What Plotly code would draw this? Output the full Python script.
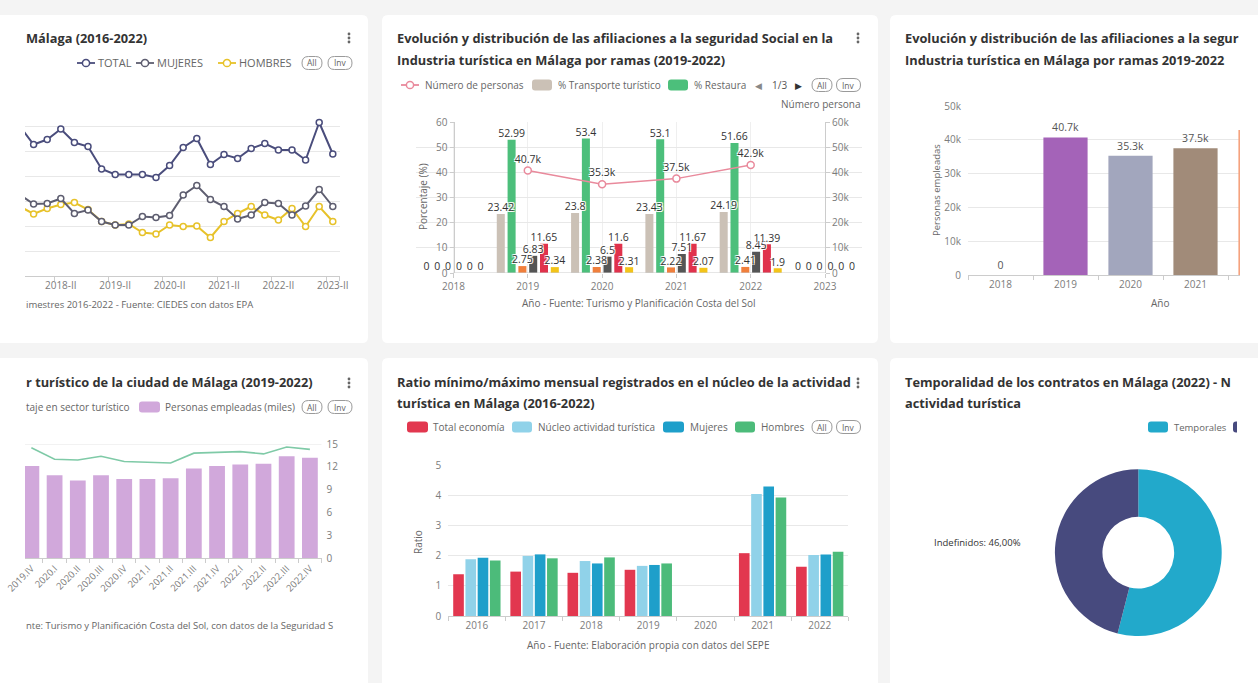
import plotly.graph_objects as go

W, H = 1258, 683
FONT = "Open Sans"

# ---------------- data ----------------
# Panel A - quarterly series (Málaga 2016-2022)
quarters_a = ["2017-III", "2017-IV", "2018-I", "2018-II", "2018-III", "2018-IV",
              "2019-I", "2019-II", "2019-III", "2019-IV", "2020-I", "2020-II",
              "2020-III", "2020-IV", "2021-I", "2021-II", "2021-III", "2021-IV",
              "2022-I", "2022-II", "2022-III", "2022-IV", "2023-I", "2023-II"]
labels_a = ["2018-II", "2019-II", "2020-II", "2021-II", "2022-II", "2023-II"]
total_a = [29.9, 26.3, 27.3, 29.4, 26.7, 25.9, 21.4, 20.3, 20.3, 20.3, 19.7, 22.1,
           25.7, 27.5, 22.3, 24.3, 23.5, 25.5, 26.5, 25.2, 25.2, 23.2, 30.7, 24.4]
mujeres_a = [16.2, 14.4, 14.5, 15.5, 12.5, 13.2, 10.9, 10.2, 10.2, 11.9, 11.7, 12.1,
             16.2, 18.1, 15.3, 13.9, 11.4, 12.2, 14.7, 14.5, 12.2, 14.0, 17.3, 13.9]
hombres_a = [13.9, 12.4, 13.5, 14.3, 14.7, 13.3, 10.9, 10.2, 10.4, 8.7, 8.4, 10.2,
             9.9, 10.0, 7.7, 10.9, 12.5, 13.9, 12.2, 11.2, 13.5, 9.9, 13.9, 10.9]

# Panel B - afiliaciones por ramas (%)
years_b = [2018, 2019, 2020, 2021, 2022, 2023]
transporte_b = [0, 23.42, 23.8, 23.43, 24.19, 0]
restauracion_b = [0, 52.99, 53.4, 53.1, 51.66, 0]
rama3_b = [0, 2.75, 2.38, 2.22, 2.41, 0]
rama4_b = [0, 6.83, 6.5, 7.51, 8.45, 0]
rama5_b = [0, 11.65, 11.6, 11.67, 11.39, 0]
rama6_b = [0, 2.34, 2.31, 2.07, 1.9, 0]
years_personas = [2019, 2020, 2021, 2022]
personas_b = [40700, 35300, 37500, 42900]

# Panel C - personas empleadas
years_c = ["2018", "2019", "2020", "2021", "2022"]
personas_c = [0, 40700, 35300, 37500, 42900]

# Panel D - sector turístico ciudad de Málaga
quarters_d = ["2019.IV", "2020.I", "2020.II", "2020.III", "2020.IV", "2021.I", "2021.II",
              "2021.III", "2021.IV", "2022.I", "2022.II", "2022.III", "2022.IV"]
empleadas_d = [12.1, 10.9, 10.2, 10.9, 10.4, 10.4, 10.5, 11.8, 12.1, 12.3, 12.4, 13.4, 13.2]
porcentaje_d = [14.5, 13.0, 12.9, 13.4, 12.7, 12.6, 12.5, 13.8, 13.9, 14.0, 13.7, 14.6, 14.3]

# Panel E - ratio mínimo/máximo
years_e = ["2016", "2017", "2018", "2019", "2020", "2021", "2022"]
total_econ_e = [1.38, 1.47, 1.43, 1.53, None, 2.08, 1.63]
nucleo_e = [1.88, 1.99, 1.82, 1.66, None, 4.04, 2.02]
mujeres_e = [1.93, 2.04, 1.74, 1.69, None, 4.29, 2.04]
hombres_e = [1.84, 1.91, 1.94, 1.74, None, 3.92, 2.13]

# Panel F - temporalidad
contratos_f = ["Temporales", "Indefinidos"]
pct_f = [54.0, 46.0]

# ---------------- helpers ----------------
def X(p):
    return p / W


def Y(p):
    return 1 - p / H


def kfmt(v):
    return f"{v / 1000:g}k" if v else "0"


shapes = []
annotations = []
HALO = "-1px -1px 0 #fff, 1px -1px 0 #fff, -1px 1px 0 #fff, 1px 1px 0 #fff"


def rrect_path(x0, y0, x1, y1, r):
    rx, ry = r / W, r / H
    a, b, c, d = X(x0), X(x1), Y(y0), Y(y1)
    return (f"M {a+rx},{c} L {b-rx},{c} Q {b},{c} {b},{c-ry} L {b},{d+ry} Q {b},{d} {b-rx},{d} "
            f"L {a+rx},{d} Q {a},{d} {a},{d+ry} L {a},{c-ry} Q {a},{c} {a+rx},{c} Z")


def card(x0, y0, x1, y1):
    shapes.append(dict(type="path", xref="paper", yref="paper", path=rrect_path(x0, y0, x1, y1, 6),
                       fillcolor="white", line=dict(width=0), layer="below"))


def txt(x, y, s, size=10, color="#666", bold=False, xanchor="left", yanchor="middle", angle=0):
    annotations.append(dict(x=X(x), y=Y(y), xref="paper", yref="paper",
                            text=f"<b>{s}</b>" if bold else s, showarrow=False,
                            xanchor=xanchor, yanchor=yanchor, textangle=angle, borderpad=0,
                            font=dict(size=size, color=color, family=FONT)))


def title(x, y, s):
    txt(x, y, s, size=12.8, color="#333", bold=True)


def dots(x, y):
    for dy in (-4, 0, 4):
        shapes.append(dict(type="circle", xref="paper", yref="paper",
                           x0=X(x - 1.4), x1=X(x + 1.4), y0=Y(y + dy + 1.4), y1=Y(y + dy - 1.4),
                           fillcolor="#666", line=dict(width=0)))


def line_icon(xc, yc, color):
    shapes.append(dict(type="line", xref="paper", yref="paper", x0=X(xc - 9), x1=X(xc + 9),
                       y0=Y(yc), y1=Y(yc), line=dict(color=color, width=1.8)))
    shapes.append(dict(type="circle", xref="paper", yref="paper", x0=X(xc - 3.6), x1=X(xc + 3.6),
                       y0=Y(yc + 3.6), y1=Y(yc - 3.6), fillcolor="white", line=dict(color=color, width=1.5)))


def rect_icon(x0, x1, yc, color):
    shapes.append(dict(type="path", xref="paper", yref="paper", path=rrect_path(x0, yc - 5.5, x1, yc + 5.5, 3),
                       fillcolor=color, line=dict(width=0)))


def pill(xc, yc, w, s):
    shapes.append(dict(type="path", xref="paper", yref="paper",
                       path=rrect_path(xc - w / 2, yc - 6.5, xc + w / 2, yc + 6.5, 6.5),
                       fillcolor="rgba(0,0,0,0)", line=dict(color="#9a9a9a", width=1)))
    txt(xc, yc, s, size=8.5, color="#666", xanchor="center")


# ---------------- cards ----------------
card(-10, 15, 368, 343)
card(382, 15, 878, 343)
card(890, 15, 1275, 343)
card(-10, 358, 368, 700)
card(382, 358, 878, 700)
card(890, 358, 1275, 700)

# ---------------- colors ----------------
C_TOTAL, C_MUJ, C_HOM = "#4a4d7c", "#5e5e70", "#e7c22a"
C_PINK = "#e98a9c"
C_B = ["#cbc1b6", "#4cbf7b", "#f07f3c", "#555555", "#e0324c", "#f3c419"]
C_C = ["#a463b8", "#a463b8", "#a2a6bd", "#a18b79", "#f5a27e"]
C_D_BAR, C_D_LINE = "#d1a8db", "#7fcaa7"
C_E = ["#e2374f", "#90d2e9", "#1e9fca", "#4cbb7a"]
C_F = ["#22a9cb", "#474a7e"]

fig = go.Figure()

# ---------------- Panel A ----------------
for name, vals, col in (("HOMBRES", hombres_a, C_HOM), ("MUJERES", mujeres_a, C_MUJ), ("TOTAL", total_a, C_TOTAL)):
    fig.add_trace(go.Scatter(x=quarters_a, y=vals, name=name, mode="lines+markers",
                             line=dict(color=col, width=2),
                             marker=dict(size=6, color="white", line=dict(color=col, width=1.5)),
                             xaxis="x", yaxis="y"))

title(25, 38, "Málaga (2016-2022)")
dots(349, 38)
line_icon(86, 63, C_TOTAL)
txt(97, 63, "TOTAL", size=11)
line_icon(145, 63, C_MUJ)
txt(156, 63, "MUJERES", size=11)
line_icon(227, 63, C_HOM)
txt(238, 63, "HOMBRES", size=11)
pill(312, 63, 20, "All")
pill(340, 63, 24, "Inv")
txt(25, 305, "imestres 2016-2022 - Fuente: CIEDES con datos EPA", size=9.5)

# ---------------- Panel B ----------------
names_b = ["% Transporte turístico", "% Restauración", "% Rama 3", "% Rama 4", "% Rama 5", "% Rama 6"]
series_b = [transporte_b, restauracion_b, rama3_b, rama4_b, rama5_b, rama6_b]
pitch_b, width_b = 0.1454, 0.108
for k, (nm, vals) in enumerate(zip(names_b, series_b)):
    fig.add_trace(go.Bar(x=years_b, y=vals, name=nm, marker=dict(color=C_B[k], line=dict(width=0)),
                         width=width_b, offset=(k - 2.5) * pitch_b - width_b / 2,
                         xaxis="x2", yaxis="y2"))
fig.add_trace(go.Scatter(x=years_personas, y=personas_b, name="Número de personas",
                         mode="lines+markers+text", text=[kfmt(v) for v in personas_b],
                         texttemplate="%{text}", textposition="top center",
                         textfont=dict(size=10.5, color="#333", family=FONT, shadow=HALO),
                         line=dict(color=C_PINK, width=1.5),
                         marker=dict(size=7, color="white", line=dict(color=C_PINK, width=1.5)),
                         xaxis="x2", yaxis="y3"))
# value labels of the bars, drawn above every bar
for k, (nm, vals) in enumerate(zip(names_b, series_b)):
    fig.add_trace(go.Scatter(x=[yr + (k - 2.5) * pitch_b for yr in years_b], y=vals, name=nm,
                             mode="text", text=[f"{v:g}" for v in vals], textposition="top center",
                             cliponaxis=False,
                             textfont=dict(size=10.5, color="#333", family=FONT, shadow=HALO),
                             xaxis="x2", yaxis="y2"))
# x axis baseline of panel B (2018 to 2023)
shapes.append(dict(type="line", xref="x2", yref="y2", x0=years_b[0], x1=years_b[-1], y0=0, y1=0,
                   line=dict(color="#cccccc", width=1)))

title(396, 38, "Evolución y distribución de las afiliaciones a la seguridad Social en la")
title(396, 60, "Industria turística en Málaga por ramas (2019-2022)")
dots(858, 38)
line_icon(410, 85, C_PINK)
txt(424, 85, "Número de personas", size=10)
rect_icon(532, 552, 85, C_B[0])
txt(557, 85, "% Transporte turístico", size=10)
rect_icon(668, 688, 85, C_B[1])
txt(693, 85, "% Restaura", size=10)
txt(758, 85, "◀", size=9, color="#888", xanchor="center")
txt(779, 85, "1/3", size=10, color="#555", xanchor="center")
txt(798, 85, "▶", size=9, color="#333", xanchor="center")
pill(822, 85, 20, "All")
pill(848.5, 85, 24, "Inv")
txt(862, 104, "Número persona", size=10, xanchor="right")
txt(423, 197, "Porcentaje (%)", size=10, xanchor="center", angle=-90)
txt(639, 303, "Año - Fuente: Turismo y Planificación Costa del Sol", size=10, xanchor="center")

# ---------------- Panel C ----------------
visible_c = 4  # the last category is cut by the card edge
fig.add_trace(go.Bar(x=years_c, y=personas_c, name="Personas empleadas",
                     marker=dict(color=C_C, line=dict(width=0)), width=0.68,
                     text=[kfmt(v) if i < visible_c else "" for i, v in enumerate(personas_c)],
                     texttemplate="%{text}",
                     textposition="outside", constraintext="none",
                     textfont=dict(size=10.5, color="#555", family=FONT),
                     xaxis="x3", yaxis="y4"))
title(904, 38, "Evolución y distribución de las afiliaciones a la segur")
title(904, 60, "Industria turística en Málaga por ramas 2019-2022")
txt(937, 190, "Personas empleadas", size=9.5, xanchor="center", angle=-90)
txt(1160, 303, "Año", size=10, xanchor="center")

# ---------------- Panel D ----------------
fig.add_trace(go.Bar(x=quarters_d, y=empleadas_d, name="Personas empleadas (miles)",
                     marker=dict(color=C_D_BAR, line=dict(width=0)), width=0.68,
                     xaxis="x4", yaxis="y5"))
fig.add_trace(go.Scatter(x=quarters_d, y=porcentaje_d, name="Porcentaje en sector turístico",
                         mode="lines", line=dict(color=C_D_LINE, width=1.6),
                         xaxis="x4", yaxis="y6"))
title(25, 382, "r turístico de la ciudad de Málaga (2019-2022)")
dots(349, 383)
txt(25, 407, "taje en sector turístico", size=10)
rect_icon(139, 160, 407, C_D_BAR)
txt(164, 407, "Personas empleadas (miles)", size=10)
pill(312, 407, 20, "All")
pill(340, 407, 24, "Inv")
txt(25, 625, "nte: Turismo y Planificación Costa del Sol, con datos de la Seguridad S", size=9.5)
shapes.append(dict(type="line", xref="x4 domain", yref="y5", x0=0, x1=1, y0=15, y1=15,
                   line=dict(color="#e6e6e6", width=1), layer="below"))

# ---------------- Panel E ----------------
names_e = ["Total economía", "Núcleo actividad turística", "Mujeres", "Hombres"]
series_e = [total_econ_e, nucleo_e, mujeres_e, hombres_e]
pitch_e, width_e = 0.214, 0.186
for k, (nm, vals) in enumerate(zip(names_e, series_e)):
    fig.add_trace(go.Bar(x=years_e, y=vals, name=nm, marker=dict(color=C_E[k], line=dict(width=0)),
                         width=width_e, offset=(k - 1.5) * pitch_e - width_e / 2,
                         xaxis="x5", yaxis="y7"))
title(396, 382, "Ratio mínimo/máximo mensual registrados en el núcleo de la actividad")
title(396, 403, "turística en Málaga (2016-2022)")
dots(858, 383)
rect_icon(407, 428, 427, C_E[0])
txt(432, 427, "Total economía", size=10)
rect_icon(512, 532, 427, C_E[1])
txt(537, 427, "Núcleo actividad turística", size=10)
rect_icon(663, 684, 427, C_E[2])
txt(689, 427, "Mujeres", size=10)
rect_icon(735, 755, 427, C_E[3])
txt(760, 427, "Hombres", size=10)
pill(822, 427, 20, "All")
pill(848.5, 427, 24, "Inv")
txt(418, 542, "Ratio", size=10, xanchor="center", angle=-90)
txt(648, 645, "Año - Fuente: Elaboración propia con datos del SEPE", size=10, xanchor="center")

# ---------------- Panel F ----------------
cx, cy, R = 1138.3, 552.7, 83.4
fig.add_trace(go.Pie(labels=contratos_f, values=pct_f, hole=0.43, sort=False, direction="clockwise",
                     rotation=0, textinfo="none", marker=dict(colors=C_F, line=dict(width=0)),
                     domain=dict(x=[X(cx - R), X(cx + R)], y=[Y(cy + R), Y(cy - R)]),
                     showlegend=False))
title(904, 382, "Temporalidad de los contratos en Málaga (2022) - N")
title(904, 403, "actividad turística")
rect_icon(1148, 1168, 427, C_F[0])
txt(1173, 427, contratos_f[0], size=9.5)
rect_icon(1233, 1240, 427, C_F[1])
shapes.append(dict(type="rect", xref="paper", yref="paper", x0=X(1237), x1=X(1242), y0=Y(420), y1=Y(434),
                   fillcolor="white", line=dict(width=0)))
txt(933, 542, f"{contratos_f[1]}: {pct_f[1]:.2f}%".replace(".", ","), size=9.5, color="#333")

# ---------------- axes ----------------
TICKF = dict(size=10, color="#7c7c7c", family=FONT)
LINEC = "#cccccc"
GRIDC = "#e8e8e8"

xbase = dict(showline=True, linecolor=LINEC, linewidth=1, ticks="outside", ticklen=4, tickcolor=LINEC,
             tickfont=TICKF, zeroline=False, showgrid=False, fixedrange=True, automargin=False,
             tickangle=0)
ybase = dict(showline=False, ticks="", tickfont=TICKF, zeroline=False, showgrid=True, gridcolor=GRIDC,
             gridwidth=1, fixedrange=True, automargin=False)

PB = 74.3  # px per year in panel B
layout = dict(
    template="none",
    width=W, height=H, autosize=False, margin=dict(l=0, r=0, t=0, b=0, pad=0),
    paper_bgcolor="#f4f4f4", plot_bgcolor="rgba(0,0,0,0)", showlegend=False, hovermode=False,
    font=dict(family=FONT),
    # Panel A
    xaxis=dict(xbase, type="category", domain=[X(25), X(339.6)], range=[0.368, 23.5], anchor="y",
               tickmode="array", tickvals=labels_a, ticktext=labels_a, tickson="boundaries"),
    yaxis=dict(ybase, domain=[Y(276), Y(101)], range=[0, 35], dtick=5, showticklabels=False, anchor="x"),
    # Panel B
    xaxis2=dict(xbase, domain=[X(453.5 - PB / 2), X(825 + PB / 2)], range=[2017.5, 2023.5],
                tickvals=years_b, anchor="y2", showline=False,
                showgrid=True, gridcolor="#efefef"),
    yaxis2=dict(ybase, domain=[Y(273), Y(122)], range=[0, 60], dtick=10, anchor="free",
                position=X(453.5),
                showline=True, linecolor=LINEC, ticks="outside", ticklen=4, tickcolor=LINEC),
    yaxis3=dict(ybase, range=[0, 60000], dtick=10000, tickformat="~s", overlaying="y2", side="right",
                anchor="free", position=X(825), showgrid=False, showline=True, linecolor=LINEC,
                ticks="outside", ticklen=4, tickcolor=LINEC),
    # Panel C
    xaxis3=dict(xbase, type="category", domain=[X(968), X(1240)], range=[-0.5, (1240 - 968) / 65 - 0.5],
                tickson="boundaries", anchor="y4"),
    yaxis4=dict(ybase, domain=[Y(275), Y(106)], range=[0, 50000], dtick=10000, tickformat="~s",
                anchor="x3", ticklabelstandoff=6),
    # Panel D
    xaxis4=dict(xbase, type="category", domain=[X(25), X(321.5)], range=[-0.275, 12.5],
                tickson="boundaries", tickangle=-45, anchor="y5",
                tickfont=dict(size=9.5, color="#7c7c7c", family=FONT)),
    yaxis5=dict(ybase, domain=[Y(558.3), Y(444)], range=[0, 15], dtick=3, side="right", anchor="x4",
                showgrid=False, ticklabelstandoff=4),
    yaxis6=dict(ybase, range=[0, 15], overlaying="y5", anchor="x4", visible=False, showgrid=False),
    # Panel E
    xaxis5=dict(xbase, type="category", domain=[X(448.3), X(848.3)], range=[-0.5, 6.5],
                tickson="boundaries", anchor="y7"),
    yaxis7=dict(ybase, domain=[Y(616), Y(465)], range=[0, 5], dtick=1, anchor="x5", ticklabelstandoff=6),
    shapes=shapes,
    annotations=annotations,
)
fig.update_layout(**layout)

fig.write_html("out.html", config={"displayModeBar": False},
               post_script="document.body.style.margin='0';")
